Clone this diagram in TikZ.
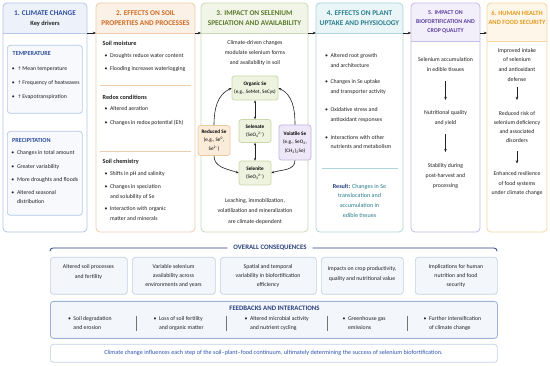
\documentclass[tikz,border=0pt]{standalone}
\usepackage{fontspec}
\setmainfont{Carlito}
\newfontfamily\symf{DejaVu Sans}
\usetikzlibrary{arrows.meta,calc}
\newcommand\fs[2]{\fontsize{#1}{#2}\selectfont}
\newcommand\ionss[2]{\textsubscript{#1}\kern-0.2pt\textsuperscript{#2}}
\newcommand\upar{{\symf\fs{4.8}{6}\char"2191}}
\definecolor{ink}{HTML}{222222}
\definecolor{c1t}{HTML}{2F4E9E}\definecolor{c1h}{HTML}{EDF2FA}\definecolor{c1b}{HTML}{B4C7E6}
\definecolor{c2t}{HTML}{CC6B25}\definecolor{c2h}{HTML}{FCF1E6}\definecolor{c2b}{HTML}{EDCDAE}
\definecolor{c3t}{HTML}{5A7A2B}\definecolor{c3h}{HTML}{F1F5E8}\definecolor{c3b}{HTML}{C9D9B4}
\definecolor{c4t}{HTML}{2B7F8E}\definecolor{c4h}{HTML}{EAF5F7}\definecolor{c4b}{HTML}{AED5DC}
\definecolor{c5t}{HTML}{5A3FA0}\definecolor{c5h}{HTML}{F2EFFA}\definecolor{c5b}{HTML}{C6BCE5}
\definecolor{c6t}{HTML}{E39A1C}\definecolor{c6h}{HTML}{FEF6E8}\definecolor{c6b}{HTML}{F3D7A3}
\definecolor{navy}{HTML}{27407E}
\definecolor{obf}{HTML}{F3F6FB}\definecolor{obb}{HTML}{C3D0E6}
\definecolor{fbb}{HTML}{9FB2D6}
\definecolor{ibf}{HTML}{F7F9FD}
\definecolor{gf}{HTML}{EEF3E0}\definecolor{gb}{HTML}{C9D7A9}
\definecolor{rf}{HTML}{FBEBD9}\definecolor{rb}{HTML}{EBC9A3}
\definecolor{vf}{HTML}{EDE7F7}\definecolor{vb}{HTML}{C3B5E2}
\definecolor{bluetext}{HTML}{2E55B5}
\newcommand\mkcol[5]{%
  \node[inner sep=0, outer sep=0, fill=white, rounded corners=4pt, minimum width={(#3-#2)*1pt}, minimum height=229pt, anchor=north west] (#1) at (#2,3) {};
  \fill[#5h, rounded corners=4pt] (#2,3) rectangle (#3,#4);
  \fill[#5h] (#2,#4-5) rectangle (#3,#4);
  \draw[#5b, line width=0.7pt] (#2,#4) -- (#3,#4);
  \draw[#5b, line width=0.8pt, rounded corners=4pt] (#1.north west) rectangle (#1.south east);
}
\newcommand\bitem[4]{\node[ln] (#1b) at (#2,#3) {\textbullet}; \node[ln] (#1) at (#2+5.5,#3) {#4};}
\newcommand\bline[4]{\node[ln] (#1) at (#2,#3) {#4};}
\begin{document}
\begin{tikzpicture}[x=1pt,y=-1pt,
  body/.style={font=\fs{5.8}{9.6}, text=ink, inner sep=0, outer sep=0},
  ln/.style={body, anchor=west, text height=4.1pt, text depth=1.2pt},
  cl/.style={body, align=center},
  ttl/.style={font=\bfseries\fs{7.3}{9}, align=center, inner sep=0},
  sub/.style={font=\bfseries\fs{6.2}{8}, inner sep=0, anchor=west, text=ink},
  ibox/.style={draw=c1b, fill=ibf, rounded corners=3pt, line width=0.7pt, anchor=north west, inner sep=0},
  sebox/.style={rounded corners=2.5pt, line width=0.7pt, inner sep=0, align=center, font=\fs{5.2}{8.6}},
  flow/.style={-{Stealth[length=3.2pt,width=2.6pt]}, line width=0.6pt, ink},
  arc/.style={-{Stealth[length=3pt,width=2.5pt]}, line width=0.6pt, ink},
  darr/.style={{Stealth[length=2.6pt,width=2.3pt]}-{Stealth[length=2.6pt,width=2.3pt]}, line width=0.6pt, ink},
  obox/.style={draw=obb, fill=obf, rounded corners=3pt, line width=0.7pt, anchor=north west, inner sep=0, minimum height=37pt},
]
\useasboundingbox (0,0) rectangle (550,366);
\fill[white] (0,0) rectangle (550,366);
\coordinate (hl) at (0,33);

% ---------- column 1
\mkcol{c1}{3}{87}{33}{c1}
\node[ttl,text=c1t] (c1ta) at (45,13) {1. CLIMATE CHANGE};
\node[ttl,text=ink,font=\bfseries\fs{6.4}{8}] (c1tb) at (45,23.5) {Key drivers};
\node[ibox, minimum width=75pt, minimum height=68pt] (tbox) at (7,45) {};
\node[sub,text=c1t] (tth) at (12.5,54) {TEMPERATURE};
\bitem{tm1}{12}{69}{\upar\,Mean temperature}
\bitem{tm2}{12}{83}{\upar\,Frequency of heatwaves}
\bitem{tm3}{12}{97}{\upar\,Evapotranspiration}
\node[ibox, minimum width=75pt, minimum height=84pt] (pbox) at (7,131) {};
\node[sub,text=c1t] (pth) at (12,140) {PRECIPITATION};
\bitem{pr1}{11.5}{153.5}{Changes in total amount}
\bitem{pr2}{11.5}{167}{Greater variability}
\bitem{pr3}{11.5}{180}{More droughts and floods}
\bitem{pr4}{11.5}{193}{Altered seasonal}
\bline{pr4c}{17}{202}{distribution}

% ---------- column 2
\mkcol{c2}{96}{195}{33}{c2}
\node[ttl,text=c2t] (c2ta) at (145.5,13) {2. EFFECTS ON SOIL};
\node[ttl,text=c2t] (c2tb) at (145.5,23) {PROPERTIES AND PROCESSES};
\node[sub] (sm) at (102.5,43) {Soil moisture};
\bitem{sm1}{104.5}{56}{Droughts reduce water content}
\bitem{sm2}{104.5}{69}{Flooding increases waterlogging}
\draw[c2b, line width=0.7pt] (100,85) -- (191,85);
\node[sub] (rc) at (102.5,97) {Redox conditions};
\bitem{rc1}{104.5}{109.5}{Altered aeration}
\bitem{rc2}{104.5}{123}{Changes in redox potential (Eh)}
\draw[c2b, line width=0.7pt] (100,151) -- (191,151);
\node[sub] (sc) at (102.5,162) {Soil chemistry};
\bitem{sc1}{104.5}{174}{Shifts in pH and salinity}
\bitem{sc2}{104.5}{187}{Changes in speciation}
\bline{sc2c}{110}{197}{and solubility of Se}
\bitem{sc3}{104.5}{209}{Interaction with organic}
\bline{sc3c}{110}{219}{matter and minerals}

% ---------- column 3
\mkcol{c3}{201}{308}{33}{c3}
\node[ttl,text=c3t] (c3ta) at (254.5,13) {3. IMPACT ON SELENIUM};
\node[ttl,text=c3t] (c3tb) at (254.5,23) {SPECIATION AND AVAILABILITY};
\node[cl, font=\fs{5.8}{10}] (c3i) at (255,53) {Climate-driven changes\\modulate selenium forms\\and availability in soil};
\node[sebox, draw=gb, fill=gf, minimum width=46pt, minimum height=24pt] (org) at (255,88) {\textbf{Organic Se}\\(e.g., SeMet, SeCys)};
\node[sebox, draw=gb, fill=gf, minimum width=32pt, minimum height=23pt] (sel1) at (255,131) {\textbf{Selenate}\\(SeO\ionss{4}{2–})};
\node[sebox, draw=gb, fill=gf, minimum width=32pt, minimum height=24pt] (sel2) at (255,173) {\textbf{Selenite}\\(SeO\ionss{3}{2–})};
\node[sebox, draw=rb, fill=rf, minimum width=32pt, minimum height=30pt] (red) at (214,140.5) {\textbf{Reduced Se}\\(e.g., Se\textsuperscript{0},\\Se\textsuperscript{2–})};
\node[sebox, draw=vb, fill=vf, minimum width=32pt, minimum height=35pt] (vol) at (295,142.5) {\textbf{Volatile Se}\\(e.g., SeO\textsubscript{2},\\(CH\textsubscript{3})\textsubscript{2}Se)};
\draw[arc] (red.north) to[out=90,in=205] (org.west);
\draw[arc] (vol.north) to[out=90,in=-25] (org.east);
\draw[arc] (red.south) to[out=-90,in=160] (sel2.west);
\draw[arc] (vol.south) to[out=-90,in=20] (sel2.east);
\draw[darr] (org.south) -- (sel1.north);
\draw[darr] (sel1.south) -- (sel2.north);
\node[cl, font=\fs{5.8}{10.5}] (c3b) at (255,211) {Leaching, immobilization,\\volatilization and mineralization\\are climate-dependent};

% ---------- column 4
\mkcol{c4}{316}{403}{33}{c4}
\node[ttl,text=c4t] (c4ta) at (359.5,13) {4. EFFECTS ON PLANT};
\node[ttl,text=c4t] (c4tb) at (359.5,23) {UPTAKE AND PHYSIOLOGY};
\bitem{pu1}{325}{56}{Altered root growth}
\bline{pu1c}{330.5}{66}{and architecture}
\bitem{pu2}{325}{82.5}{Changes in Se uptake}
\bline{pu2c}{330.5}{92.5}{and transporter activity}
\bitem{pu3}{325}{110}{Oxidative stress and}
\bline{pu3c}{330.5}{120}{antioxidant responses}
\bitem{pu4}{325}{138}{Interactions with other}
\bline{pu4c}{330.5}{147.5}{nutrients and metabolism}
\draw[c4b, line width=0.8pt] (322,168) -- (398,168);
\node[cl, text=c4t, font=\fs{6.1}{9.6}] (res) at (359.5,200.5) {\textcolor{navy}{\textbf{Result:}} Changes in Se\\translocation and\\accumulation in\\edible tissues};

% ---------- column 5
\mkcol{c5}{411}{480}{41}{c5}
\node[ttl,text=c5t,font=\bfseries\fs{5.9}{9.2}] (c5t) at (445.5,21.8) {5. IMPACT ON\\BIOFORTIFICATION AND\\CROP QUALITY};
\node[cl] (q1) at (445.5,64.5) {Selenium accumulation\\in edible tissues};
\coordinate (q1s) at (445.5,81);
\coordinate (q1e) at (445.5,100);
\draw[flow] (q1s) -- (q1e);
\node[cl] (q2) at (445.5,118) {Nutritional quality\\and yield};
\coordinate (q2s) at (445.5,134);
\coordinate (q2e) at (445.5,152);
\draw[flow] (q2s) -- (q2e);
\node[cl] (q3) at (445.5,176) {Stability during\\post-harvest and\\processing};

% ---------- column 6
\mkcol{c6}{487}{547}{41}{c6}
\node[ttl,text=c6t,font=\bfseries\fs{6.5}{9}] (c6t) at (517,17.5) {6. HUMAN HEALTH\\AND FOOD SECURITY};
\node[cl, font=\fs{5.8}{9.7}] (h1) at (517,64.8) {Improved intake\\of selenium\\and antioxidant\\defense};
\coordinate (h1s) at (517,87);
\coordinate (h1e) at (517,100);
\draw[flow] (h1s) -- (h1e);
\node[cl, font=\fs{5.8}{9.3}] (h2) at (517,127) {Reduced risk of\\selenium deficiency\\and associated\\disorders};
\coordinate (h2s) at (517,151.5);
\coordinate (h2e) at (517,163.5);
\draw[flow] (h2s) -- (h2e);
\node[cl, font=\fs{5.8}{9.5}] (h3) at (517,183.6) {Enhanced resilience\\of food systems\\under climate change};

% ---------- arrows between columns
\draw[flow] (c1.east |- hl) -- (c2.west |- hl);
\draw[flow] (c2.east |- hl) -- (c3.west |- hl);
\draw[flow] (c3.east |- hl) -- (c4.west |- hl);
\draw[flow] (c4.east |- hl) -- (c5.west |- hl);
\draw[flow] (c5.east |- hl) -- (c6.west |- hl);

% ---------- overall consequences
\node[font=\bfseries\fs{6.8}{8}, text=navy, inner sep=0] (oc) at (270,248) {OVERALL CONSEQUENCES};
\coordinate (ocl) at (50,251.5);
\coordinate (ocr) at (497,251.5);
\draw[navy, line width=0.8pt, rounded corners=3pt] ($(oc.west)+(-6,0)$) -- (ocl |- oc) -- (ocl);
\draw[navy, line width=0.8pt, rounded corners=3pt] ($(oc.east)+(6,0)$) -- (ocr |- oc) -- (ocr);
\node[obox, minimum width=77pt] (o1) at (50,257) {};
\node[obox, minimum width=83pt] (o2) at (132,257) {};
\node[obox, minimum width=96pt] (o3) at (220,257) {};
\node[obox, minimum width=82pt] (o4) at (321,257) {};
\node[obox, minimum width=82pt] (o5) at (415,257) {};
\node[cl, font=\fs{5.8}{9.4}] (o1t) at (88.5,272) {Altered soil processes\\and fertility};
\node[cl, font=\fs{5.8}{9.4}] (o2t) at (173.5,276) {Variable selenium\\availability across\\environments and years};
\node[cl, font=\fs{5.8}{9.4}] (o3t) at (268,276) {Spatial and temporal\\variability in biofortification\\efficiency};
\node[cl, font=\fs{5.8}{9.4}] (o4t) at (362,274) {Impacts on crop productivity,\\quality and nutritional value};
\node[cl, font=\fs{5.8}{9.4}] (o5t) at (456,276) {Implications for human\\nutrition and food\\security};

% ---------- feedbacks
\node[draw=fbb, fill=obf, rounded corners=3pt, line width=0.8pt, anchor=north west, inner sep=0, minimum width=447pt, minimum height=37pt] (fb) at (50,301) {};
\node[font=\bfseries\fs{6.8}{8}, text=navy, inner sep=0] (fbt) at (274.5,308.5) {FEEDBACKS AND INTERACTIONS};
\bitem{f1}{68}{319.5}{Soil degradation}
\bline{f1c}{73.5}{328.5}{and erosion}
\bitem{f2}{153.5}{319.5}{Loss of soil fertility}
\bline{f2c}{159}{328.5}{and organic matter}
\bitem{f3}{244.5}{319.5}{Altered microbial activity}
\bline{f3c}{250}{328.5}{and nutrient cycling}
\bitem{f4}{342.5}{319.5}{Greenhouse gas}
\bline{f4c}{348}{328.5}{emissions}
\bitem{f5}{423.5}{319.5}{Further intensification}
\bline{f5c}{429}{328.5}{of climate change}
\foreach \sx in {136,226,327,407} \draw[black!55, line width=0.6pt] (\sx,316.5) -- (\sx,331);

% ---------- bottom statement
\node[draw=obb, fill=white, rounded corners=3pt, line width=0.7pt, inner sep=0, minimum width=447pt, minimum height=18pt, anchor=north west] (bb) at (50,344) {};
\node[body, font=\fs{6.2}{8}, text=bluetext] (bbt) at (273.5,353) {Climate change influences each step of the soil–plant–food continuum, ultimately determining the success of selenium biofortification.};
\end{tikzpicture}
\end{document}
